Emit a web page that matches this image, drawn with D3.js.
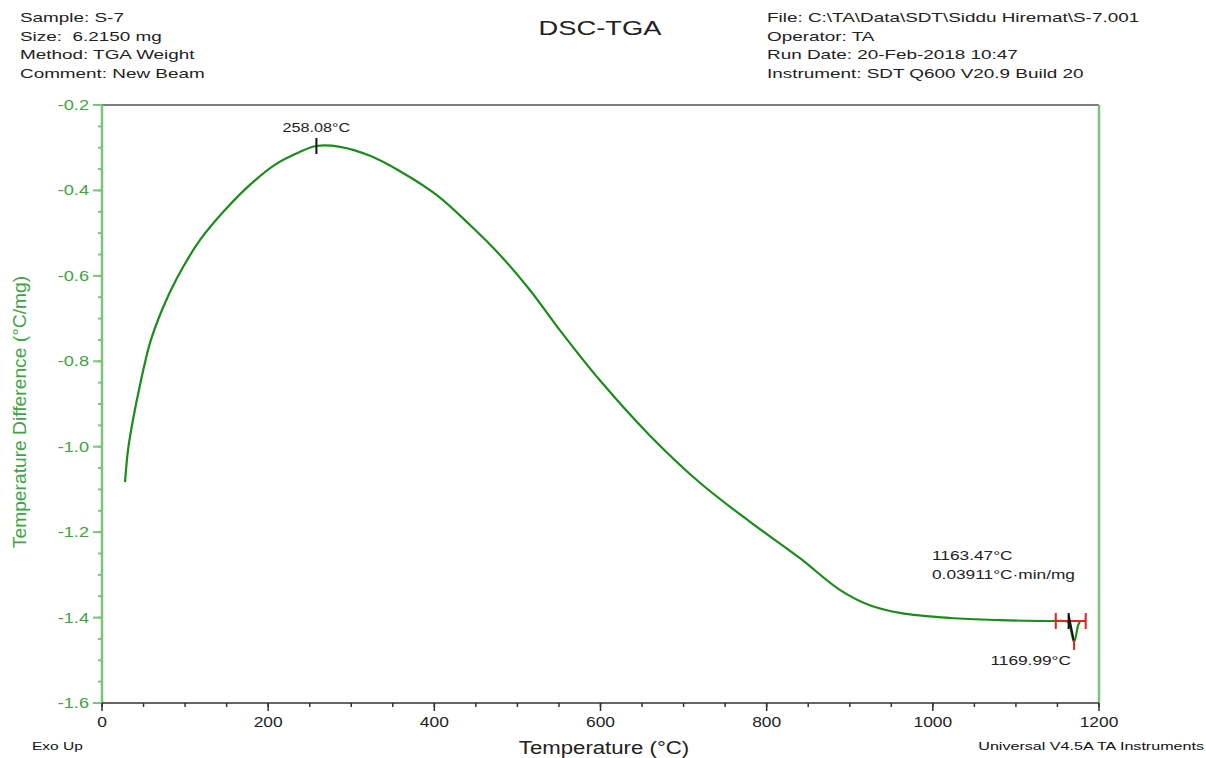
<!DOCTYPE html>
<html>
<head>
<meta charset="utf-8">
<script src="https://cdn.jsdelivr.net/npm/d3@7"></script>
<style>
  html, body { margin: 0; padding: 0; background: #fff; }
  svg { display: block; font-family: "Liberation Sans", Arial, sans-serif; }
  text { white-space: pre; }
</style>
</head>
<body>
<svg id="chart" width="1206" height="758"></svg>
<script>
// DSC signal: temperature (°C) vs. temperature difference (°C/mg)
const temps = [27.7, 31.3, 37.3, 45.7, 57.8, 72.2, 90.3, 118, 148, 178, 208, 238, 258, 286.5,
  322.6, 358.7, 403, 443, 479, 515, 551, 599, 659, 720, 780, 840, 888, 924, 960.5, 1020.7,
  1081, 1141, 1159, 1163, 1170, 1175, 1177];
const diffs = [-1.083, -1.008, -0.937, -0.856, -0.757, -0.680, -0.605, -0.516, -0.446, -0.387,
  -0.340, -0.310, -0.296, -0.298, -0.319, -0.355, -0.411, -0.481, -0.551, -0.633, -0.727,
  -0.844, -0.973, -1.085, -1.176, -1.261, -1.335, -1.371, -1.389, -1.401, -1.406, -1.408,
  -1.408, -1.410, -1.457, -1.417, -1.410];

const xTicks = [0, 200, 400, 600, 800, 1000, 1200];
const yTicks = [-1.6, -1.4, -1.2, -1.0, -0.8, -0.6, -0.4, -0.2];

const headerLeft = ["Sample: S-7", "Size:  6.2150 mg", "Method: TGA Weight", "Comment: New Beam"];
const headerRight = ["File: C:\\TA\\Data\\SDT\\Siddu Hiremat\\S-7.001", "Operator: TA",
  "Run Date: 20-Feb-2018 10:47", "Instrument: SDT Q600 V20.9 Build 20"];

// Analysis results
const peakTemp = 258.08;
const peakValue = -0.296;
const onsetTemp = 1163.47;
const onsetValue = -1.408;
const dipTemp = 1169.99;
const dipValue = -1.457;
const limitLow = 1148;
const limitHigh = 1184;
const areaText = "0.03911°C·min/mg";

const svg = d3.select("#chart");
const plotL = 102, plotR = 1099, plotT = 105, plotB = 703;

const x = d3.scaleLinear().domain([0, 1200]).range([plotL, plotR]);
const y = d3.scaleLinear().domain([-1.6, -0.2]).range([plotB, plotT]);

const axisGreen = "#7cc47c";
const labelGreen = "#3fa33f";
const curveGreen = "#1b8c1b";

// text placed at (tx, ty) and widened horizontally by sx
function label(parent, tx, ty, sx, str, size, anchor, fill) {
  return parent.append("text")
    .attr("transform", `translate(${tx},${ty}) scale(${sx},1)`)
    .attr("text-anchor", anchor || "start")
    .attr("font-size", size)
    .attr("fill", fill || "#222")
    .text(str);
}

// header text
headerLeft.forEach((t, i) => label(svg, 20, 22 + i * 18.5, 1.4, t, 13.5));
headerRight.forEach((t, i) => label(svg, 767, 22 + i * 18.5, 1.4, t, 13.5));
label(svg, 600, 35, 1.4, "DSC-TGA", 19.5, "middle");

// frame: top dark, right green
svg.append("line").attr("x1", plotL).attr("x2", plotR).attr("y1", plotT).attr("y2", plotT)
  .attr("stroke", "#555").attr("stroke-width", 1.5);
svg.append("line").attr("x1", plotR).attr("x2", plotR).attr("y1", plotT).attr("y2", plotB)
  .attr("stroke", axisGreen).attr("stroke-width", 2.5);

// y axis
const yMinor = d3.range(-1.6, -0.2 + 1e-9, 0.05);
const yAxisG = svg.append("g");
yAxisG.selectAll("line.minor").data(yMinor).join("line").attr("class", "minor")
  .attr("x1", plotL - 4).attr("x2", plotL).attr("y1", d => y(d)).attr("y2", d => y(d))
  .attr("stroke", axisGreen).attr("stroke-width", 2);
yAxisG.selectAll("line.major").data(yTicks).join("line").attr("class", "major")
  .attr("x1", plotL - 9).attr("x2", plotL).attr("y1", d => y(d)).attr("y2", d => y(d))
  .attr("stroke", axisGreen).attr("stroke-width", 2);
yAxisG.append("line").attr("x1", plotL).attr("x2", plotL).attr("y1", plotT).attr("y2", plotB)
  .attr("stroke", axisGreen).attr("stroke-width", 2.5);
yTicks.forEach(d => label(yAxisG, plotL - 13, y(d) + 5, 1.3, d.toFixed(1), 14, "end", labelGreen));

// x axis
const xMinor = d3.range(0, 1201, 50);
const xAxisG = svg.append("g");
xAxisG.append("line").attr("x1", plotL).attr("x2", plotR).attr("y1", plotB).attr("y2", plotB)
  .attr("stroke", "#333").attr("stroke-width", 1.5);
xAxisG.selectAll("line.minor").data(xMinor).join("line").attr("class", "minor")
  .attr("x1", d => x(d)).attr("x2", d => x(d)).attr("y1", plotB).attr("y2", plotB + 4)
  .attr("stroke", "#333").attr("stroke-width", 1.5);
xAxisG.selectAll("line.major").data(xTicks).join("line").attr("class", "major")
  .attr("x1", d => x(d)).attr("x2", d => x(d)).attr("y1", plotB).attr("y2", plotB + 8)
  .attr("stroke", "#333").attr("stroke-width", 1.5);
xTicks.forEach(d => label(xAxisG, x(d), plotB + 24, 1.2, String(d), 14.5, "middle"));

// axis titles
label(svg, 604, 754, 1.2, "Temperature (°C)", 18.5, "middle");
svg.append("text").attr("transform", "translate(26,412) rotate(-90) scale(1.1,1)")
  .attr("text-anchor", "middle").attr("font-size", 17.5).attr("fill", labelGreen)
  .text("Temperature Difference (°C/mg)");
label(svg, 32, 750, 1.35, "Exo Up", 11.5, "start", "#111");
label(svg, 1204, 750, 1.4, "Universal V4.5A TA Instruments", 11.5, "end", "#111");

// curve
const line = d3.line().x((d, i) => x(temps[i])).y(d => y(d)).curve(d3.curveCatmullRom.alpha(0.5));
svg.append("path").datum(diffs).attr("d", line).attr("fill", "none")
  .attr("stroke", curveGreen).attr("stroke-width", 2.2);

// peak marker
svg.append("line").attr("x1", x(peakTemp)).attr("x2", x(peakTemp))
  .attr("y1", y(peakValue) - 8).attr("y2", y(peakValue) + 8)
  .attr("stroke", "#111").attr("stroke-width", 2);
label(svg, x(peakTemp), y(peakValue) - 14, 1.2, peakTemp.toFixed(2) + "°C", 13.5, "middle");

// integration limits and peak of the small endotherm
const red = "#e8201e";
svg.append("line").attr("x1", x(limitLow)).attr("x2", x(limitHigh))
  .attr("y1", y(onsetValue)).attr("y2", y(onsetValue)).attr("stroke", red).attr("stroke-width", 2);
[limitLow, limitHigh].forEach(t => svg.append("line").attr("x1", x(t)).attr("x2", x(t))
  .attr("y1", y(onsetValue) - 8).attr("y2", y(onsetValue) + 8).attr("stroke", red).attr("stroke-width", 2));
svg.append("line").attr("x1", x(onsetTemp)).attr("x2", x(onsetTemp))
  .attr("y1", y(onsetValue) - 8).attr("y2", y(onsetValue) + 8).attr("stroke", "#111").attr("stroke-width", 2);
svg.append("line").attr("x1", x(onsetTemp)).attr("x2", x(dipTemp))
  .attr("y1", y(onsetValue) - 6).attr("y2", y(dipValue)).attr("stroke", "#111").attr("stroke-width", 2);
svg.append("line").attr("x1", x(dipTemp)).attr("x2", x(dipTemp))
  .attr("y1", y(dipValue) - 2).attr("y2", y(dipValue) + 8).attr("stroke", red).attr("stroke-width", 2);

label(svg, 932, 560, 1.28, onsetTemp.toFixed(2) + "°C", 13.5);
label(svg, 932, 579, 1.28, areaText, 13.5);
label(svg, 1071, 665, 1.28, dipTemp.toFixed(2) + "°C", 13.5, "end");
</script>
</body>
</html>
